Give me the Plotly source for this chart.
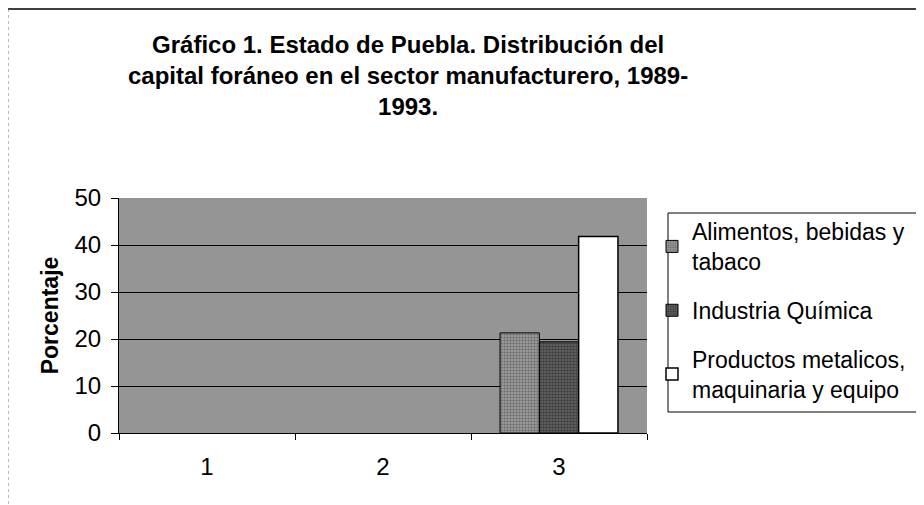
import plotly.graph_objects as go

categories = ["1", "2", "3"]
alimentos = [None, None, 21.3]
quimica = [None, None, 19.4]
metalicos = [None, None, 41.8]
series_names = ["Alimentos, bebidas y<br>tabaco", "Industria Química",
                "Productos metalicos,<br>maquinaria y equipo"]
y_ticks = [0, 10, 20, 30, 40, 50]
title_text = ("Gráfico 1. Estado de Puebla. Distribución del<br>"
              "capital foráneo en el sector manufacturero, 1989-<br>1993.")

FONT = "Liberation Sans, Arial, sans-serif"
OFF = 8  # page body margin

fig = go.Figure()
fig.add_trace(go.Bar(
    x=categories, y=alimentos, name=series_names[0], legendgroup="a",
    marker=dict(color="#888888", line=dict(color="black", width=1),
                pattern=dict(shape=".", fgcolor="#333333", bgcolor="#9a9a9a",
                             size=3, solidity=0.4)),
))
fig.add_trace(go.Bar(
    x=categories, y=quimica, name=series_names[1], legendgroup="b",
    marker=dict(color="#3c3c3c", line=dict(color="black", width=1),
                pattern=dict(shape=".", fgcolor="#111111", bgcolor="#6a6a6a",
                             size=3, solidity=0.6)),
))
fig.add_trace(go.Bar(
    x=categories, y=metalicos, name=series_names[2], legendgroup="c",
    marker=dict(color="white", line=dict(color="black", width=1.5)),
))

# target screen pixels of plot area
L, R, T, B = 119, 647, 198, 433
W = R - L
H = B - T

def px_x(p):
    return (p - L) / W

def px_y(p):
    return (B - p) / H

fig.update_layout(
    width=924, height=505,
    margin=dict(l=L - OFF, r=924 - (R - OFF), t=T - OFF, b=505 - (B - OFF),
                pad=0, autoexpand=False),
    paper_bgcolor="white",
    plot_bgcolor="#959595",
    barmode="group", bargap=0.33, bargroupgap=0,
    font=dict(family=FONT, size=22, color="black"),
    title=dict(text=title_text, x=0.433, xanchor="center", xref="container",
               y=1 - 45 / 505, yanchor="top", yref="container",
               font=dict(family=FONT, size=24, color="black", weight="bold")),
    legend=dict(x=px_x(652), xanchor="left", y=px_y(210), yanchor="top",
                borderwidth=0, bgcolor="rgba(0,0,0,0)",
                font=dict(family=FONT, size=23), tracegroupgap=16,
                traceorder="grouped"),
    xaxis=dict(type="category", categoryorder="array", categoryarray=categories,
               tickson="boundaries", ticks="outside", ticklen=6, tickcolor="black",
               showline=True, linecolor="black", linewidth=1, showgrid=False,
               automargin=False, tickfont=dict(family=FONT, size=24),
               ticklabelstandoff=12),
    yaxis=dict(range=[0, 50], tickvals=y_ticks, ticks="outside", ticklen=7,
               tickcolor="black", showline=True, linecolor="black", linewidth=1,
               showgrid=True, gridcolor="black", gridwidth=1, zeroline=False,
               automargin=False, tickfont=dict(family=FONT, size=24),
               ticklabelstandoff=5,
               title=dict(text="<b>Porcentaje</b>", standoff=9,
                          font=dict(family=FONT, size=23))),
    shapes=[
        dict(type="line", xref="paper", yref="paper", x0=px_x(8), x1=px_x(932),
             y0=px_y(9), y1=px_y(9), line=dict(color="black", width=1.5)),
        dict(type="line", xref="paper", yref="paper", x0=px_x(8), x1=px_x(8),
             y0=px_y(9), y1=px_y(520), line=dict(color="#777777", width=1, dash="dot")),
        dict(type="rect", xref="paper", yref="paper", x0=px_x(668), x1=px_x(917),
             y0=px_y(412), y1=px_y(213), line=dict(color="black", width=1),
             fillcolor="rgba(0,0,0,0)", layer="above"),
    ],
)

fig.write_html("out.html")
